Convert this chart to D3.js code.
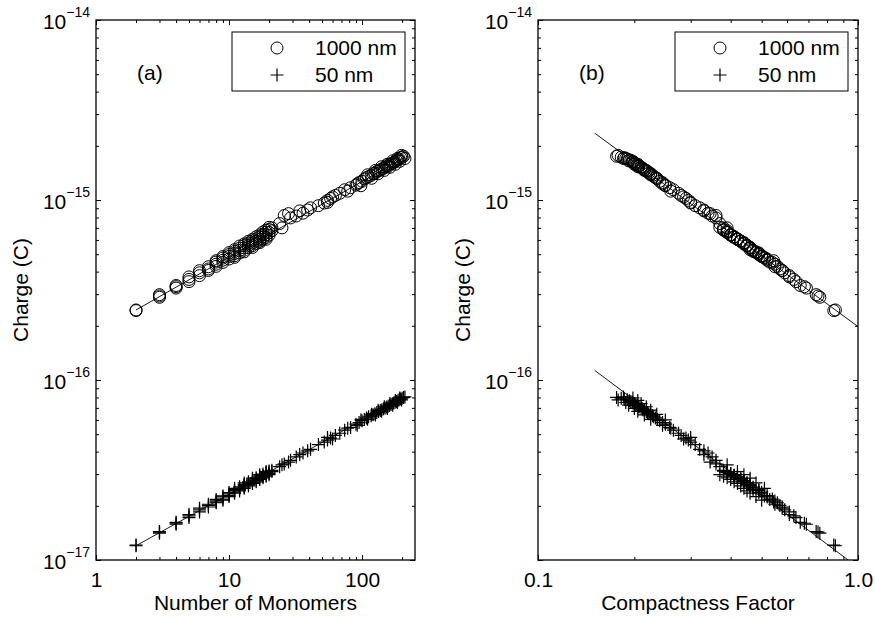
<!DOCTYPE html>
<html>
<head>
<meta charset="utf-8">
<script src="https://cdn.jsdelivr.net/npm/d3@7"></script>
<style>
  body { margin: 0; background: #fff; }
  svg { display: block; background: #fff; }
</style>
</head>
<body>
<svg id="chart" width="875" height="618"></svg>
<script>
// Aggregates: number of monomers, compactness factor, charge for the two particle sizes.
const monomers = [
  2, 2, 3, 3, 3, 4, 4, 4, 5, 5, 5, 6, 6, 6, 7, 7, 7, 8, 8, 8, 9, 9, 9, 10, 10, 10,
  11, 11, 11, 12, 12, 12, 13, 13, 13, 14, 14, 14, 15, 15, 15, 16, 16, 16, 17, 17, 17,
  18, 18, 18, 19, 19, 19, 20, 20, 20, 21, 21, 25, 26, 29, 32, 36, 39, 41, 47, 52, 55,
  58, 63, 68, 74, 82, 90, 95, 100, 104, 108, 112, 117, 121, 125, 129, 133, 137, 141,
  145, 149, 153, 157, 161, 165, 169, 173, 177, 181, 186, 190, 195, 200, 205,
  8, 9, 10, 11, 12, 13, 14, 15, 16, 17, 18, 19, 20, 13, 15, 17, 19, 11, 24, 28, 34,
  55, 60, 78, 92, 98, 110, 118, 126, 132, 140, 147, 155, 162, 170, 178, 184, 192, 198, 210
];
const compactness = [
  0.85, 0.84, 0.76, 0.75, 0.74, 0.69, 0.68, 0.66, 0.64, 0.63, 0.61, 0.61, 0.59, 0.58,
  0.58, 0.57, 0.55, 0.56, 0.55, 0.53, 0.54, 0.52, 0.51, 0.52, 0.50, 0.49, 0.50, 0.49,
  0.47, 0.49, 0.47, 0.46, 0.47, 0.46, 0.45, 0.46, 0.45, 0.44, 0.45, 0.44, 0.43, 0.44,
  0.43, 0.42, 0.43, 0.42, 0.41, 0.42, 0.41, 0.40, 0.41, 0.40, 0.39, 0.40, 0.39, 0.38,
  0.39, 0.38, 0.39, 0.36, 0.36, 0.35, 0.34, 0.33, 0.32, 0.31, 0.30, 0.295, 0.29, 0.28,
  0.275, 0.265, 0.258, 0.25, 0.245, 0.24, 0.236, 0.233, 0.23, 0.228, 0.225, 0.222,
  0.22, 0.218, 0.215, 0.213, 0.212, 0.21, 0.207, 0.206, 0.204, 0.202, 0.2, 0.198,
  0.197, 0.195, 0.193, 0.19, 0.186, 0.182, 0.176,
  0.545, 0.50, 0.48, 0.51, 0.45, 0.48, 0.43, 0.46, 0.41, 0.44, 0.39, 0.42, 0.37, 0.44,
  0.42, 0.40, 0.38, 0.46, 0.37, 0.345, 0.33, 0.30, 0.285, 0.26, 0.245, 0.25, 0.225,
  0.235, 0.215, 0.225, 0.205, 0.218, 0.2, 0.21, 0.192, 0.205, 0.188, 0.198, 0.178, 0.185
];
const charge1000 = [
  2.45e-16, 2.43e-16, 2.88e-16, 2.93e-16, 2.98e-16, 3.24e-16, 3.30e-16, 3.35e-16,
  3.52e-16, 3.62e-16, 3.74e-16, 3.80e-16, 3.94e-16, 4.05e-16, 4.06e-16, 4.14e-16,
  4.26e-16, 4.28e-16, 4.40e-16, 4.52e-16, 4.50e-16, 4.63e-16, 4.76e-16, 4.70e-16,
  4.86e-16, 4.98e-16, 4.90e-16, 5.04e-16, 5.18e-16, 5.08e-16, 5.24e-16, 5.40e-16,
  5.26e-16, 5.42e-16, 5.58e-16, 5.44e-16, 5.60e-16, 5.76e-16, 5.58e-16, 5.76e-16,
  5.92e-16, 5.74e-16, 5.90e-16, 6.08e-16, 5.90e-16, 6.06e-16, 6.24e-16, 6.05e-16,
  6.22e-16, 6.42e-16, 6.20e-16, 6.40e-16, 6.62e-16, 6.38e-16, 6.60e-16, 6.85e-16,
  6.75e-16, 7.00e-16, 7.00e-16, 8.20e-16, 7.95e-16, 8.15e-16, 8.45e-16, 8.80e-16,
  9.05e-16, 9.30e-16, 9.62e-16, 9.95e-16, 1.02e-15, 1.06e-15, 1.09e-15, 1.14e-15,
  1.17e-15, 1.21e-15, 1.25e-15, 1.27e-15, 1.31e-15, 1.33e-15, 1.35e-15, 1.37e-15,
  1.40e-15, 1.41e-15, 1.44e-15, 1.45e-15, 1.47e-15, 1.49e-15, 1.50e-15, 1.52e-15,
  1.55e-15, 1.54e-15, 1.57e-15, 1.59e-15, 1.60e-15, 1.62e-15, 1.63e-15, 1.66e-15,
  1.67e-15, 1.69e-15, 1.72e-15, 1.73e-15, 1.75e-15,
  4.60e-16, 4.85e-16, 5.10e-16, 4.80e-16, 5.55e-16, 5.15e-16, 5.90e-16, 5.45e-16,
  6.25e-16, 5.80e-16, 6.65e-16, 6.05e-16, 7.05e-16, 5.70e-16, 6.05e-16, 6.40e-16,
  6.80e-16, 5.30e-16, 7.40e-16, 8.40e-16, 8.70e-16, 9.70e-16, 1.04e-15, 1.12e-15,
  1.23e-15, 1.20e-15, 1.38e-15, 1.32e-15, 1.46e-15, 1.40e-15, 1.53e-15, 1.46e-15,
  1.58e-15, 1.52e-15, 1.65e-15, 1.58e-15, 1.70e-15, 1.64e-15, 1.77e-15, 1.70e-15
];
const charge50 = [
  1.20e-17, 1.21e-17, 1.41e-17, 1.43e-17, 1.44e-17, 1.58e-17, 1.60e-17, 1.62e-17,
  1.72e-17, 1.76e-17, 1.79e-17, 1.85e-17, 1.90e-17, 1.94e-17, 1.97e-17, 2.01e-17,
  2.04e-17, 2.08e-17, 2.13e-17, 2.17e-17, 2.18e-17, 2.24e-17, 2.27e-17, 2.28e-17,
  2.33e-17, 2.37e-17, 2.38e-17, 2.43e-17, 2.46e-17, 2.46e-17, 2.51e-17, 2.55e-17,
  2.54e-17, 2.59e-17, 2.63e-17, 2.62e-17, 2.67e-17, 2.72e-17, 2.69e-17, 2.75e-17,
  2.79e-17, 2.76e-17, 2.82e-17, 2.86e-17, 2.83e-17, 2.89e-17, 2.93e-17, 2.90e-17,
  2.95e-17, 3.00e-17, 2.96e-17, 3.02e-17, 3.06e-17, 3.02e-17, 3.08e-17, 3.12e-17,
  3.10e-17, 3.15e-17, 3.38e-17, 3.42e-17, 3.58e-17, 3.74e-17, 3.93e-17, 4.04e-17,
  4.12e-17, 4.38e-17, 4.52e-17, 4.64e-17, 4.76e-17, 4.92e-17, 5.06e-17, 5.26e-17,
  5.45e-17, 5.68e-17, 5.80e-17, 5.94e-17, 6.04e-17, 6.16e-17, 6.25e-17, 6.32e-17,
  6.42e-17, 6.50e-17, 6.60e-17, 6.68e-17, 6.76e-17, 6.84e-17, 6.92e-17, 7.00e-17,
  7.08e-17, 7.15e-17, 7.22e-17, 7.30e-17, 7.38e-17, 7.45e-17, 7.52e-17, 7.60e-17,
  7.68e-17, 7.76e-17, 7.84e-17, 7.92e-17, 8.00e-17,
  2.10e-17, 2.15e-17, 2.25e-17, 2.50e-17, 2.42e-17, 2.68e-17, 2.58e-17, 2.85e-17,
  2.72e-17, 2.98e-17, 2.86e-17, 3.10e-17, 2.98e-17, 2.50e-17, 2.66e-17, 2.80e-17,
  2.92e-17, 2.35e-17, 3.30e-17, 3.50e-17, 3.85e-17, 4.80e-17, 4.70e-17, 5.40e-17,
  5.60e-17, 6.00e-17, 6.05e-17, 6.45e-17, 6.40e-17, 6.80e-17, 6.70e-17, 7.10e-17,
  6.95e-17, 7.40e-17, 7.25e-17, 7.70e-17, 7.50e-17, 7.95e-17, 7.75e-17, 8.05e-17
];

// Power-law fit lines, given by their two end points.
const fitMonomersX = [2, 210];
const fitMonomers1000 = [2.45e-16, 1.73e-15];
const fitMonomers50 = [1.20e-17, 8.10e-17];
const fitCompactX = [0.1505, 1.0];
const fitCompact1000 = [2.35e-15, 1.98e-16];
const fitCompact50 = [1.13e-16, 9.1e-18];

const chargeTicks = [1e-17, 1e-16, 1e-15, 1e-14];
const monomerTicks = [1, 10, 100];
const monomerTickLabels = ['1', '10', '100'];
const compactTicks = [0.1, 1];
const compactTickLabels = ['0.1', '1.0'];
const seriesNames = ['1000 nm', '50 nm'];

(function () {
  const FONT = '"Liberation Sans", Arial, Helvetica, sans-serif';
  const FONT_SIZE = 21;
  const TOP = 20;
  const BOTTOM = 560;
  const MAJOR = 5;
  const MINOR = 3;
  const CIRCLE_R = 6;
  const PLUS_ARM = 6.5;

  const svg = d3.select('#chart').attr('font-family', FONT);

  const panels = [
    {
      tag: '(a)', left: 96, right: 415, xDomain: [1, 250], xs: monomers,
      xTicks: monomerTicks, xTickLabels: monomerTickLabels, xTitle: 'Number of Monomers',
      yLabelled: [1e-17, 1e-16, 1e-15, 1e-14],
      fitX: fitMonomersX, fit1000: fitMonomers1000, fit50: fitMonomers50,
    },
    {
      tag: '(b)', left: 538, right: 858, xDomain: [0.1, 1], xs: compactness,
      xTicks: compactTicks, xTickLabels: compactTickLabels, xTitle: 'Compactness Factor',
      yLabelled: [1e-16, 1e-15, 1e-14],
      fitX: fitCompactX, fit1000: fitCompact1000, fit50: fitCompact50,
    },
  ];

  function isMajor(v, list) {
    return list.some((m) => Math.abs(m - v) / m < 1e-6);
  }

  function plainAxis(sel) {
    sel.select('.domain').remove();
    sel.attr('font-family', FONT).attr('font-size', FONT_SIZE);
    sel.selectAll('.tick line').attr('stroke', '#000').attr('stroke-width', 1);
  }

  function plusPath(s) {
    return `M${-s},0H${s}M0,${-s}V${s}`;
  }

  function drawPanel(p, idx) {
    const x = d3.scaleLog().domain(p.xDomain).range([p.left, p.right]);
    const y = d3.scaleLog().domain([1e-17, 1e-14]).range([BOTTOM, TOP]);
    const g = svg.append('g').attr('class', 'panel');

    const clipId = 'clip' + idx;
    g.append('clipPath').attr('id', clipId)
      .append('rect')
      .attr('x', p.left).attr('y', TOP)
      .attr('width', p.right - p.left).attr('height', BOTTOM - TOP);

    const xMinor = x.ticks().filter((v) => !isMajor(v, p.xTicks));
    const yMinor = y.ticks().filter((v) => !isMajor(v, chargeTicks));

    // minor ticks on all four sides, pointing inward
    g.append('g').attr('transform', `translate(0,${BOTTOM})`)
      .call(d3.axisBottom(x).tickValues(xMinor).tickSize(-MINOR).tickFormat('')).call(plainAxis);
    g.append('g').attr('transform', `translate(0,${TOP})`)
      .call(d3.axisTop(x).tickValues(xMinor).tickSize(-MINOR).tickFormat('')).call(plainAxis);
    g.append('g').attr('transform', `translate(${p.left},0)`)
      .call(d3.axisLeft(y).tickValues(yMinor).tickSize(-MINOR).tickFormat('')).call(plainAxis);
    g.append('g').attr('transform', `translate(${p.right},0)`)
      .call(d3.axisRight(y).tickValues(yMinor).tickSize(-MINOR).tickFormat('')).call(plainAxis);

    // major ticks
    const bottomAxis = g.append('g').attr('transform', `translate(0,${BOTTOM})`)
      .call(d3.axisBottom(x).tickValues(p.xTicks).tickSize(-MAJOR)
        .tickFormat((d, i) => p.xTickLabels[i]))
      .call(plainAxis);
    bottomAxis.selectAll('.tick text').attr('y', 27).attr('dy', null).attr('fill', '#000');

    g.append('g').attr('transform', `translate(0,${TOP})`)
      .call(d3.axisTop(x).tickValues(p.xTicks).tickSize(-MAJOR).tickFormat('')).call(plainAxis);
    g.append('g').attr('transform', `translate(${p.right},0)`)
      .call(d3.axisRight(y).tickValues(chargeTicks).tickSize(-MAJOR).tickFormat('')).call(plainAxis);

    const leftAxis = g.append('g').attr('transform', `translate(${p.left},0)`)
      .call(d3.axisLeft(y).tickValues(chargeTicks).tickSize(-MAJOR).tickPadding(6).tickFormat(''))
      .call(plainAxis);
    leftAxis.selectAll('.tick text')
      .attr('dy', 8)
      .attr('fill', '#000')
      .each(function (d) {
        if (!isMajor(d, p.yLabelled)) return;
        const t = d3.select(this);
        t.append('tspan').text('10');
        t.append('tspan').attr('font-size', 14).attr('dy', -12)
          .text('\u2212' + Math.round(-Math.log10(d)));
      });

    // frame
    g.append('rect')
      .attr('x', p.left).attr('y', TOP)
      .attr('width', p.right - p.left).attr('height', BOTTOM - TOP)
      .attr('fill', 'none').attr('stroke', '#000').attr('stroke-width', 1.3);

    // fit lines
    const line = d3.line().x((d) => x(d[0])).y((d) => y(d[1]));
    const plot = g.append('g').attr('clip-path', `url(#${clipId})`);
    [p.fit1000, p.fit50].forEach((fit) => {
      plot.append('path')
        .datum(p.fitX.map((v, i) => [v, fit[i]]))
        .attr('d', line)
        .attr('fill', 'none')
        .attr('stroke', '#000')
        .attr('stroke-width', 0.9);
    });

    // markers
    plot.append('g').selectAll('circle')
      .data(p.xs.map((v, i) => [v, charge1000[i]]))
      .join('circle')
      .attr('cx', (d) => x(d[0]))
      .attr('cy', (d) => y(d[1]))
      .attr('r', CIRCLE_R)
      .attr('fill', 'none')
      .attr('stroke', '#000')
      .attr('stroke-width', 1);

    plot.append('g').selectAll('path')
      .data(p.xs.map((v, i) => [v, charge50[i]]))
      .join('path')
      .attr('transform', (d) => `translate(${x(d[0])},${y(d[1])})`)
      .attr('d', plusPath(PLUS_ARM))
      .attr('fill', 'none')
      .attr('stroke', '#000')
      .attr('stroke-width', 1.2);

    // panel tag
    g.append('text')
      .attr('x', p.left + 41).attr('y', 80)
      .attr('font-size', FONT_SIZE).attr('fill', '#000')
      .text(p.tag);

    // legend
    const lx = p.right - 183;
    const ly = TOP + 12;
    const legend = g.append('g').attr('transform', `translate(${lx},${ly})`);
    legend.append('rect')
      .attr('width', 173).attr('height', 59)
      .attr('fill', '#fff').attr('stroke', '#000').attr('stroke-width', 1);
    legend.append('circle')
      .attr('cx', 45).attr('cy', 16).attr('r', CIRCLE_R)
      .attr('fill', 'none').attr('stroke', '#000').attr('stroke-width', 1);
    legend.append('path')
      .attr('transform', 'translate(45,43)')
      .attr('d', plusPath(PLUS_ARM))
      .attr('stroke', '#000').attr('stroke-width', 1.2);
    legend.selectAll('text.item')
      .data(seriesNames)
      .join('text')
      .attr('class', 'item')
      .attr('x', 83)
      .attr('y', (d, i) => 23 + i * 27)
      .attr('font-size', FONT_SIZE)
      .attr('fill', '#000')
      .text((d) => d);

    // axis titles
    g.append('text')
      .attr('x', (p.left + p.right) / 2).attr('y', 610)
      .attr('text-anchor', 'middle')
      .attr('font-size', FONT_SIZE).attr('fill', '#000')
      .text(p.xTitle);
    g.append('text')
      .attr('transform', `translate(${p.left - 68},${(TOP + BOTTOM) / 2}) rotate(-90)`)
      .attr('text-anchor', 'middle')
      .attr('font-size', FONT_SIZE).attr('fill', '#000')
      .text('Charge (C)');
  }

  panels.forEach(drawPanel);
})();
</script>
</body>
</html>
